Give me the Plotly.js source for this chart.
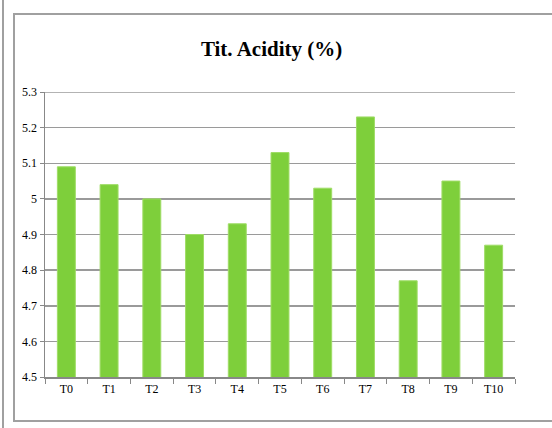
<!DOCTYPE html>
<html><head><meta charset="utf-8">
<script src="https://cdn.plot.ly/plotly-3.0.1.min.js"></script>
<style>html,body{margin:0;padding:0;background:#fff;}#c{width:552px;height:428px;}</style>
</head><body><div id="c"></div>
<script>
const categories = ['T0','T1','T2','T3','T4','T5','T6','T7','T8','T9','T10'];
const acidity = [5.09, 5.04, 5.00, 4.90, 4.93, 5.13, 5.03, 5.23, 4.77, 5.05, 4.87];
const yTicks = [4.5, 4.6, 4.7, 4.8, 4.9, 5, 5.1, 5.2, 5.3];
const yTickText = ['4.5','4.6','4.7','4.8','4.9','5','5.1','5.2','5.3'];

const SERIF = 'Liberation Serif';
const L = 45, R = 37, T = 92, B = 51;
const W = 552 - L - R, H = 428 - T - B;
const px = p => (p - L) / W;
const py = p => (428 - B - p) / H;

const trace = {
  type: 'bar', x: categories, y: acidity,
  marker: {color: '#7ecf3b', line: {color: '#9fdc66', width: 1}},
  hoverinfo: 'skip'
};
const frame = {color: '#a0a0a0', width: 2};
const layout = {
  width: 552, height: 428,
  margin: {l: L, r: R, t: T, b: B},
  paper_bgcolor: '#fff', plot_bgcolor: '#fff',
  bargap: 0.58,
  showlegend: false,
  font: {family: SERIF},
  title: {text: '<b>Tit. Acidity (%)</b>', x: 0.492, xanchor: 'center', y: 0.886, yanchor: 'middle',
          font: {family: SERIF, size: 21, color: '#000'}},
  xaxis: {type: 'category', tickson: 'boundaries', ticks: 'outside', ticklen: 5, tickcolor: '#888',
          showline: true, linecolor: '#888', linewidth: 1.5, showgrid: false,
          tickfont: {family: SERIF, size: 12, color: '#000'}},
  yaxis: {range: [4.5, 5.3], tickvals: yTicks, ticktext: yTickText, ticks: 'outside', ticklen: 4,
          tickcolor: '#888', showline: true, linecolor: '#888', linewidth: 1.5,
          showgrid: true, gridcolor: '#9a9a9a', gridwidth: 1.5, zeroline: false,
          tickfont: {family: SERIF, size: 12, color: '#000'}},
  shapes: [
    {type: 'line', xref: 'paper', yref: 'y', x0: 0, x1: 1, y0: 5.3, y1: 5.3, line: {color: '#9a9a9a', width: 1.5}},
    {type: 'rect', xref: 'paper', yref: 'paper', x0: px(14), x1: px(575), y0: py(421), y1: py(14), line: frame},
    {type: 'line', xref: 'paper', yref: 'paper', x0: px(3), x1: px(3), y0: py(440), y1: py(-10), line: frame}
  ]
};
Plotly.newPlot('c', [trace], layout, {staticPlot: true, displayModeBar: false});
</script></body></html>
